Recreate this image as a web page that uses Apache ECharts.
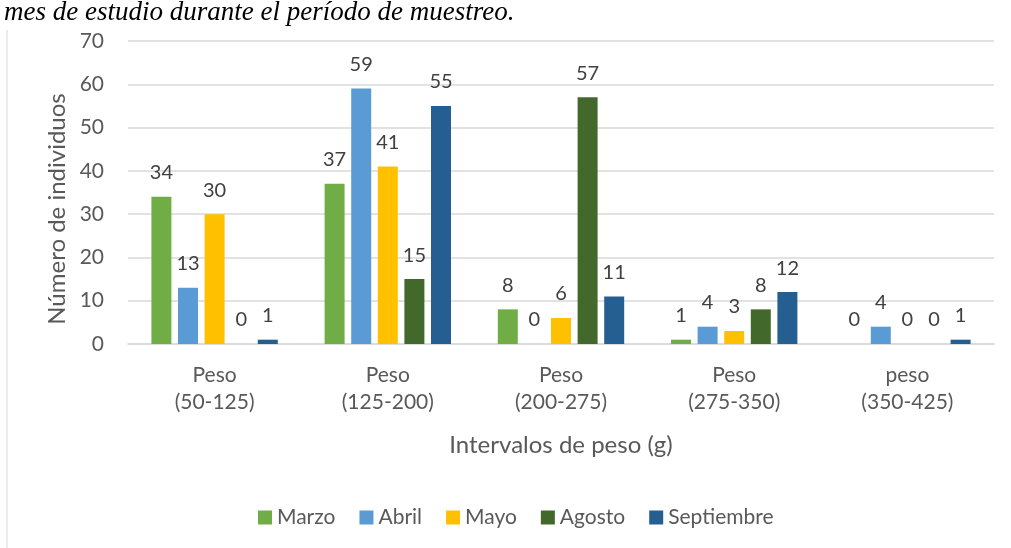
<!DOCTYPE html>
<html>
<head>
<meta charset="utf-8">
<script src="https://cdn.jsdelivr.net/npm/echarts@6/dist/echarts.min.js"></script>
<style>
  html, body { margin: 0; padding: 0; background: #fff; }
  #chart { width: 1011px; height: 548px; }
</style>
</head>
<body>
<div id="chart"></div>
<script>
const categories = ['Peso\n(50-125)', 'Peso\n(125-200)', 'Peso\n(200-275)', 'Peso\n(275-350)', 'peso\n(350-425)'];
const marzo = [34, 37, 8, 1, 0];
const abril = [13, 59, 0, 4, 4];
const mayo = [30, 41, 6, 3, 0];
const agosto = [0, 15, 57, 8, 0];
const septiembre = [1, 55, 11, 12, 1];
const yTicks = [0, 10, 20, 30, 40, 50, 60, 70];

const font = 'Lato, "Open Sans", sans-serif';

function serie(name, data, color) {
  return {
    name: name,
    type: 'bar',
    data: data,
    barWidth: 20,
    barGap: '33%',
    itemStyle: { color: color },
    label: {
      show: true,
      position: 'top',
      distance: 14,
      color: '#404040',
      fontSize: 20,
      fontFamily: font
    }
  };
}

const chart = echarts.init(document.getElementById('chart'));
chart.setOption({
  animation: false,
  grid: { left: 128, right: 17, top: 41, bottom: 204 },
  graphic: [
    {
      type: 'text',
      left: 4,
      top: -1,
      style: {
        text: 'mes de estudio durante el período de muestreo.',
        font: 'italic 27px "Liberation Serif", "DejaVu Serif", serif',
        fill: '#000'
      }
    },
    {
      type: 'line',
      shape: { x1: 7, y1: 30, x2: 7, y2: 548 },
      style: { stroke: '#d9d9d9', lineWidth: 1 }
    },
    // titulo del eje y (desplazado hacia abajo como en el original)
    {
      type: 'text',
      x: 57,
      y: 209,
      rotation: Math.PI / 2,
      style: {
        text: 'Número de individuos',
        font: '24px ' + font,
        fill: '#595959',
        align: 'center',
        verticalAlign: 'middle'
      }
    }
  ],
  legend: {
    top: 502,
    left: 253,
    itemWidth: 14,
    itemHeight: 14,
    itemGap: 24,
    icon: 'rect',
    textStyle: { color: '#595959', fontSize: 21, fontFamily: font },
    data: ['Marzo', 'Abril', 'Mayo', 'Agosto', 'Septiembre']
  },
  xAxis: {
    type: 'category',
    data: categories,
    name: 'Intervalos de peso (g)',
    nameLocation: 'middle',
    nameGap: 89,
    nameTextStyle: { color: '#595959', fontSize: 24, fontFamily: font },
    axisTick: { show: false },
    axisLine: { lineStyle: { color: '#d9d9d9', width: 1.5 } },
    axisLabel: {
      color: '#595959',
      fontSize: 21,
      fontFamily: font,
      lineHeight: 27,
      margin: 18
    }
  },
  yAxis: {
    type: 'value',
    min: yTicks[0],
    max: yTicks[yTicks.length - 1],
    interval: 10,
    axisLabel: { color: '#595959', fontSize: 21, fontFamily: font, margin: 24 },
    splitLine: { lineStyle: { color: '#d9d9d9', width: 1.5 } }
  },
  series: [
    serie('Marzo', marzo, '#70AD47'),
    serie('Abril', abril, '#5B9BD5'),
    serie('Mayo', mayo, '#FFC000'),
    serie('Agosto', agosto, '#43682B'),
    serie('Septiembre', septiembre, '#255E91')
  ]
});
</script>
</body>
</html>
